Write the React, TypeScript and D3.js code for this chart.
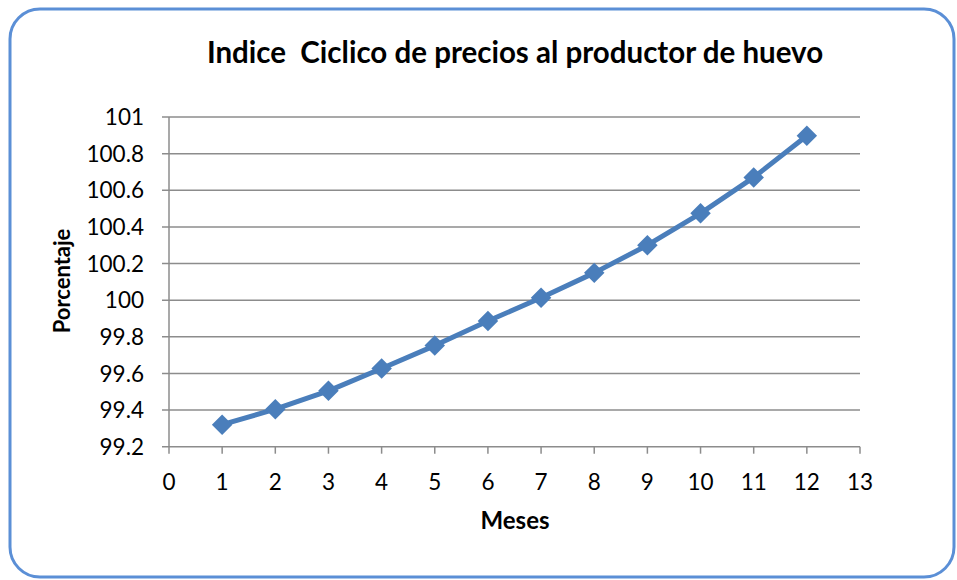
import { useEffect, useRef } from "react";
import * as d3 from "d3";

const meses = [1, 2, 3, 4, 5, 6, 7, 8, 9, 10, 11, 12];
const indice = [99.32, 99.405, 99.505, 99.627, 99.752, 99.886, 100.013, 100.149, 100.3, 100.474, 100.67, 100.898];
const xTicks = [0, 1, 2, 3, 4, 5, 6, 7, 8, 9, 10, 11, 12, 13];
const yTicks = [99.2, 99.4, 99.6, 99.8, 100, 100.2, 100.4, 100.6, 100.8, 101];

const titulo = "Indice  Ciclico de precios al productor de huevo";

export default function App() {
  const svgRef = useRef<SVGSVGElement | null>(null);
  const width = 957;
  const height = 580;

  useEffect(() => {
    if (!svgRef.current) return;
    const svg = d3.select(svgRef.current);
    svg.selectAll("*").remove();

    const font = "Lato, 'Open Sans', sans-serif";
    const gridColor = "#8c8c8c";
    const lineColor = "#4a7ebb";

    // marco redondeado
    svg
      .append("rect")
      .attr("x", 10)
      .attr("y", 9)
      .attr("width", 944)
      .attr("height", 568)
      .attr("rx", 30)
      .attr("fill", "#fff")
      .attr("stroke", "#5b8fd6")
      .attr("stroke-width", 3);

    const x = d3.scaleLinear().domain([0, 13]).range([169, 860]);
    const y = d3.scaleLinear().domain([99.2, 101]).range([446.7, 117]);

    // líneas de cuadrícula
    svg
      .append("g")
      .selectAll("line")
      .data(yTicks)
      .enter()
      .append("line")
      .attr("x1", x(0) - 7)
      .attr("x2", x(13))
      .attr("y1", (d) => y(d))
      .attr("y2", (d) => y(d))
      .attr("stroke", gridColor)
      .attr("stroke-width", 1.5);

    // eje y
    svg
      .append("line")
      .attr("x1", x(0))
      .attr("x2", x(0))
      .attr("y1", y(101))
      .attr("y2", y(99.2))
      .attr("stroke", gridColor)
      .attr("stroke-width", 1.5);

    // marcas del eje x
    svg
      .append("g")
      .selectAll("line")
      .data(xTicks)
      .enter()
      .append("line")
      .attr("x1", (d) => x(d))
      .attr("x2", (d) => x(d))
      .attr("y1", y(99.2))
      .attr("y2", y(99.2) + 7)
      .attr("stroke", gridColor)
      .attr("stroke-width", 1.5);

    svg
      .append("g")
      .selectAll("text")
      .data(yTicks)
      .enter()
      .append("text")
      .attr("x", 144)
      .attr("y", (d) => y(d))
      .attr("dy", "0.36em")
      .attr("text-anchor", "end")
      .attr("font-family", font)
      .attr("font-size", 22.5)
      .attr("fill", "#000")
      .text((d) => String(d));

    svg
      .append("g")
      .selectAll("text")
      .data(xTicks)
      .enter()
      .append("text")
      .attr("x", (d) => x(d))
      .attr("y", 490)
      .attr("text-anchor", "middle")
      .attr("font-family", font)
      .attr("font-size", 22.5)
      .attr("fill", "#000")
      .text((d) => String(d));

    // serie
    const line = d3
      .line<number>()
      .x((_, i) => x(meses[i]))
      .y((d) => y(d));

    svg
      .append("path")
      .datum(indice)
      .attr("d", line)
      .attr("fill", "none")
      .attr("stroke", lineColor)
      .attr("stroke-width", 5)
      .attr("stroke-linejoin", "round");

    const diamond = d3.symbol().type(d3.symbolSquare).size(210);
    svg
      .append("g")
      .selectAll("path")
      .data(indice)
      .enter()
      .append("path")
      .attr("d", diamond)
      .attr("transform", (d, i) => `translate(${x(meses[i])},${y(d)}) rotate(45)`)
      .attr("fill", lineColor);

    // títulos
    svg
      .append("text")
      .attr("x", 515)
      .attr("y", 63)
      .attr("text-anchor", "middle")
      .attr("font-family", font)
      .attr("font-weight", "bold")
      .attr("font-size", 29.5)
      .attr("xml:space", "preserve")
      .style("white-space", "pre")
      .text(titulo);

    svg
      .append("text")
      .attr("x", 515)
      .attr("y", 529)
      .attr("text-anchor", "middle")
      .attr("font-family", font)
      .attr("font-weight", "bold")
      .attr("font-size", 24)
      .text("Meses");

    svg
      .append("text")
      .attr("transform", "translate(70,281) rotate(-90)")
      .attr("text-anchor", "middle")
      .attr("font-family", font)
      .attr("font-weight", "bold")
      .attr("font-size", 22)
      .text("Porcentaje");
  }, []);

  return (
    <svg
      ref={svgRef}
      width={width}
      height={height}
      style={{ position: "absolute", left: 0, top: 0 }}
    ></svg>
  );
}
